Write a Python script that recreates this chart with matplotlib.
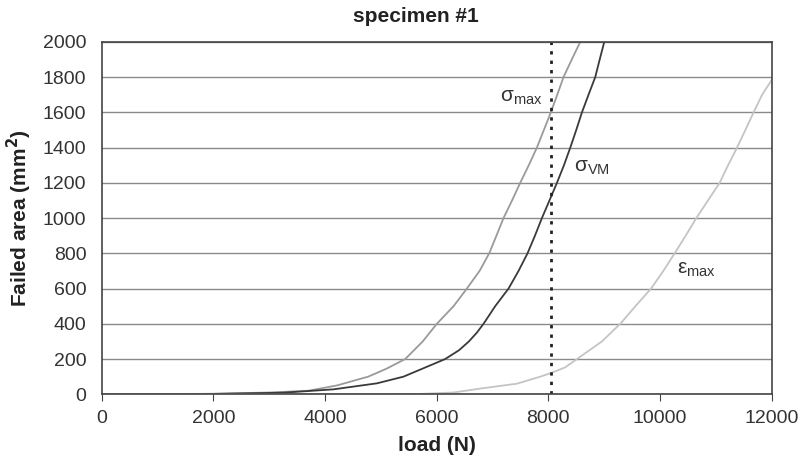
import matplotlib.pyplot as plt

plt.rcParams['font.family'] = ['Liberation Sans', 'DejaVu Sans']

# failed area curves (load in N, area in mm^2)
smax_load = [0, 1000, 2000, 3000, 3700, 4211, 4773, 5100, 5436, 5750, 6003, 6302, 6541, 6768, 6941,
             7070, 7197, 7350, 7496, 7650, 7795, 7920, 8045, 8160, 8272, 8420, 8572]
smax_area = [0, 0, 3, 10, 20, 50, 100, 145, 200, 300, 400, 500, 600, 700, 800,
             900, 1000, 1100, 1200, 1300, 1400, 1500, 1600, 1700, 1800, 1900, 2000]

svm_load = [0, 1500, 2000, 3250, 4151, 4928, 5405, 5974, 6152, 6400, 6577, 6720, 6839, 7048, 7287,
            7466, 7627, 7760, 7885, 8020, 8154, 8280, 8393, 8500, 8602, 8720, 8840, 8920, 9002]
svm_area = [0, 0, 2, 9, 28, 62, 100, 176, 200, 250, 300, 350, 400, 500, 600,
            700, 800, 900, 1000, 1100, 1200, 1300, 1400, 1500, 1600, 1700, 1800, 1900, 2000]

emax_load = [0, 5000, 5700, 6300, 6838, 7437, 7855, 8034, 8303, 8512, 8960, 9288, 9560, 9840, 10060,
             10262, 10460, 10651, 10860, 11068, 11220, 11380, 11530, 11677, 11830, 12000]
emax_area = [0, 0, 2, 10, 35, 60, 100, 119, 153, 200, 300, 400, 500, 600, 700,
             800, 900, 1000, 1100, 1200, 1300, 1400, 1500, 1600, 1700, 1783]

limit_load = 8045

fig = plt.figure(figsize=(8.01, 4.59), dpi=100)
ax = fig.add_axes([0.127, 0.141, 0.8364, 0.768])

ax.set_xlim(0, 12000)
ax.set_ylim(0, 2000)
ax.set_xticks(range(0, 12001, 2000))
ax.set_yticks(range(0, 2001, 200))
ax.yaxis.grid(True, color='#8a8a8a', linewidth=1.0)
ax.set_axisbelow(True)

ax.plot(smax_load, smax_area, color='#9a9a9a', linewidth=1.3)
ax.plot(svm_load, svm_area, color='#3a3a3a', linewidth=1.3)
ax.plot(emax_load, emax_area, color='#c4c4c4', linewidth=1.3)
ax.axvline(limit_load, color='#222222', linestyle=(0, (1.2, 2.2)), linewidth=2)

ax.text(7140, 1660, r'σ$_{\mathregular{max}}$', fontsize=15, color='#333333')
ax.text(8460, 1265, r'σ$_{\mathregular{VM}}$', fontsize=15, color='#333333')
ax.text(10300, 685, r'ε$_{\mathregular{max}}$', fontsize=15, color='#333333')

for s in ax.spines.values():
    s.set_color('#444444')
    s.set_linewidth(1.2)
ax.tick_params(axis='y', length=0, labelsize=14, labelcolor='#333333', pad=11)
ax.tick_params(axis='x', direction='out', length=5, color='#444444', labelsize=14, labelcolor='#333333', pad=6)

ax.set_xlabel('load (N)', fontsize=15, fontweight='bold', color='#222222', labelpad=7)
ax.set_ylabel(r'Failed area (mm$^\mathbf{2}$)', fontsize=15, fontweight='bold', color='#222222', labelpad=6)
fig.text(416 / 801, 1 - 17 / 459, 'specimen #1', fontsize=15, fontweight='bold', color='#222222',
         ha='center', va='center')

fig.savefig('out.png', dpi=100)
